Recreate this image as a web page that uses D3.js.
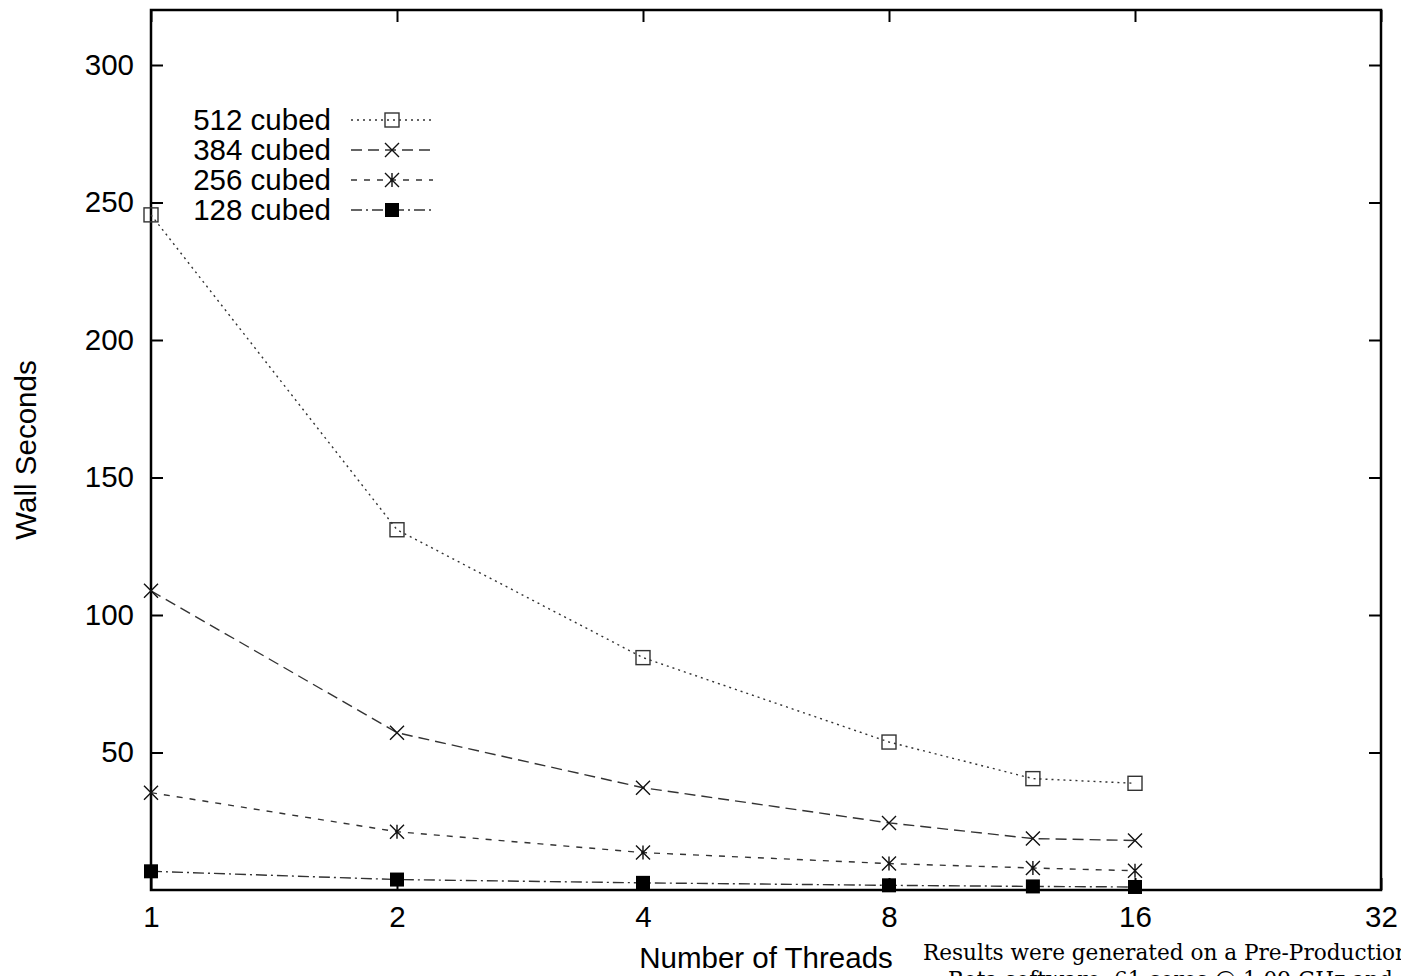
<!DOCTYPE html>
<html>
<head>
<meta charset="utf-8">
<script src="https://cdn.jsdelivr.net/npm/d3@7"></script>
<style>
  body { margin: 0; background: #fff; }
  svg { display: block; }
  text { font-family: "Liberation Sans", Arial, sans-serif; fill: #000; }
</style>
</head>
<body>
<div id="chart"></div>
<script>
"use strict";

// Data
const threads = [1, 2, 4, 8, 12, 16];
const names = ["512 cubed", "384 cubed", "256 cubed", "128 cubed"];
const wall512 = [245.5, 131, 84.5, 53.8, 40.5, 38.8];
const wall384 = [108.8, 57.2, 37.2, 24.4, 18.7, 18.0];
const wall256 = [35.4, 21.2, 13.6, 9.6, 8.0, 7.0];
const wall128 = [6.8, 3.8, 2.6, 1.7, 1.3, 1.1];
const xTicks = [1, 2, 4, 8, 16, 32];
const yTicks = [50, 100, 150, 200, 250, 300];

const series = [
  { name: names[0], values: wall512, dash: "2,4", symbol: "box" },
  { name: names[1], values: wall384, dash: "11,6", symbol: "cross" },
  { name: names[2], values: wall256, dash: "6,7", symbol: "star" },
  { name: names[3], values: wall128, dash: "11,4,2,4", symbol: "fbox" }
];

const W = 1401, H = 976;
const margin = { left: 151, top: 10, right: 20, bottom: 86 };
const iw = W - margin.left - margin.right;
const ih = H - margin.top - margin.bottom;
const fs = "29.5px";

const svg = d3.select("#chart").append("svg")
  .attr("width", W).attr("height", H);

const g = svg.append("g").attr("transform", `translate(${margin.left},${margin.top})`);

const x = d3.scaleLog().base(2).domain([1, 32]).range([0, iw]);
const y = d3.scaleLinear().domain([0, 320]).range([ih, 0]);

// ticks on all four sides, pointing inward
const tl = 12;
g.append("g").attr("transform", `translate(0,${ih})`)
  .call(d3.axisBottom(x).tickValues(xTicks).tickFormat(d3.format("d")).tickSize(-tl).tickPadding(16))
  .call(a => a.select(".domain").remove());
g.append("g")
  .call(d3.axisTop(x).tickValues(xTicks).tickFormat("").tickSize(-tl))
  .call(a => a.select(".domain").remove());
g.append("g")
  .call(d3.axisLeft(y).tickValues(yTicks).tickSize(-tl).tickPadding(17))
  .call(a => a.select(".domain").remove());
g.append("g").attr("transform", `translate(${iw},0)`)
  .call(d3.axisRight(y).tickValues(yTicks).tickFormat("").tickSize(-tl))
  .call(a => a.select(".domain").remove());

g.selectAll(".tick line").attr("stroke", "#000").attr("stroke-width", 2);
g.selectAll(".tick text").style("font-size", fs)
  .style("font-family", "Liberation Sans, Arial, sans-serif");

// frame
g.append("rect").attr("width", iw).attr("height", ih)
  .attr("fill", "none").attr("stroke", "#000").attr("stroke-width", 2.5);

function drawSymbol(sel, kind, cx, cy) {
  const s = 7;
  if (kind === "box") {
    sel.append("rect").attr("x", cx - s).attr("y", cy - s)
      .attr("width", 2 * s).attr("height", 2 * s)
      .attr("fill", "none").attr("stroke", "#333").attr("stroke-width", 1.4);
  } else if (kind === "fbox") {
    sel.append("rect").attr("x", cx - s).attr("y", cy - s)
      .attr("width", 2 * s).attr("height", 2 * s).attr("fill", "#000");
  } else {
    const p = d3.path();
    p.moveTo(cx - s, cy - s); p.lineTo(cx + s, cy + s);
    p.moveTo(cx - s, cy + s); p.lineTo(cx + s, cy - s);
    if (kind === "star") { p.moveTo(cx, cy - s); p.lineTo(cx, cy + s); }
    sel.append("path").attr("d", p.toString())
      .attr("stroke", "#111").attr("stroke-width", 1.4).attr("fill", "none");
  }
}

const line = d3.line().x((d, i) => x(threads[i])).y(d => y(d));

series.forEach(s => {
  g.append("path").datum(s.values)
    .attr("d", line)
    .attr("fill", "none").attr("stroke", "#333").attr("stroke-width", 1.4)
    .attr("stroke-dasharray", s.dash);
  const sg = g.append("g");
  s.values.forEach((v, i) => drawSymbol(sg, s.symbol, x(threads[i]), y(v)));
});

// legend
const legX = 331 - margin.left, legY0 = 120 - margin.top, legStep = 30;
series.forEach((s, i) => {
  const ly = legY0 + i * legStep;
  g.append("text").attr("x", legX).attr("y", ly).attr("dy", "0.35em")
    .attr("text-anchor", "end").style("font-size", fs).text(s.name);
  g.append("line").attr("x1", legX + 20).attr("x2", legX + 102)
    .attr("y1", ly).attr("y2", ly)
    .attr("stroke", "#333").attr("stroke-width", 1.4).attr("stroke-dasharray", s.dash);
  drawSymbol(g, s.symbol, legX + 61, ly);
});

// axis titles
svg.append("text").attr("transform", "translate(36,450) rotate(-90)")
  .attr("text-anchor", "middle").style("font-size", fs).text("Wall Seconds");
svg.append("text").attr("x", 766).attr("y", 968)
  .attr("text-anchor", "middle").style("font-size", fs).text("Number of Threads");

// footnote (runs off the right/bottom edge as in the reference)
const note = svg.append("text").style("font-family", "'DejaVu Serif', 'Liberation Serif', serif")
  .style("font-size", "21.6px");
note.append("tspan").attr("x", 923).attr("y", 960).text("Results were generated on a Pre-Production");
note.append("tspan").attr("x", 948).attr("y", 987).text("Beta software, 61 cores @ 1.09 GHz and");
</script>
</body>
</html>
